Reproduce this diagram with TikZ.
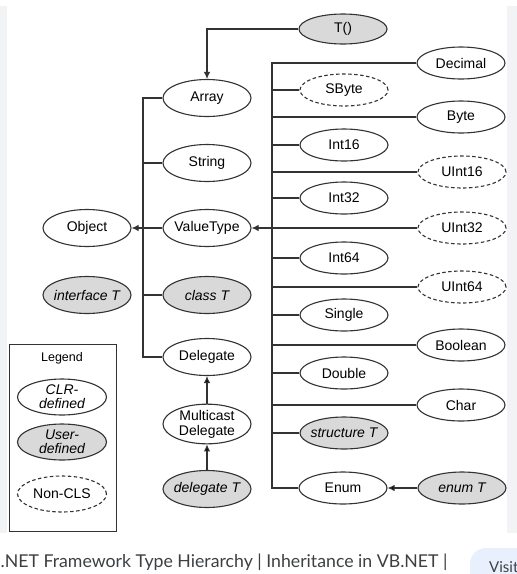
\documentclass[tikz,border=0pt]{standalone}
\usepackage{fontspec}
\setmainfont{Liberation Sans}
\newfontfamily\capfont{Lato}
\usetikzlibrary{arrows.meta,shapes}
\definecolor{usergray}{HTML}{D9D9D9}
\definecolor{linegray}{HTML}{333333}
\definecolor{pagegray}{HTML}{F2F3F5}
\definecolor{capgray}{HTML}{3C4043}
\definecolor{visitblue}{HTML}{E8F0FE}
\newcommand\typefont{\fontsize{14}{15}\selectfont}
\tikzstyle{clr}=[ellipse,draw=linegray,fill=white,line width=1.1pt,
               minimum width=88pt,minimum height=37pt,
               inner xsep=-10pt,inner ysep=0pt,align=center,font=\typefont]
\tikzstyle{prim}=[clr,minimum height=32pt]
\tikzstyle{user}=[fill=usergray,font=\typefont\itshape]
\tikzstyle{noncls}=[dash pattern=on 3.5pt off 2.5pt]
\tikzstyle{line}=[draw=linegray,line width=1.1pt]

\begin{document}
\begin{tikzpicture}[x=1pt,y=-1pt,>={Latex[length=7pt,width=6.5pt]}]
	\useasboundingbox (0,0) rectangle (517,574);
	\clip (0,0) rectangle (517,574);
	\fill[pagegray] (0,6) rectangle (517,533);
	\fill[white] (7,6) rectangle (507,533);

	% reference types
	\node[prim,user,font=\typefont,minimum height=30pt] (T) at (343,29) {T()};
	\node[clr] (Array) at (207,98) {Array};
	\node[clr] (String) at (207,163) {String};
	\node[clr] (ValueType) at (207,228) {ValueType};
	\node[clr,user] (classT) at (207,295) {class T};
	\node[clr] (Delegate) at (207,357) {Delegate};
	\node[clr] (Multicast) at (207,424) {Multicast\\Delegate};
	\node[clr,user] (delegateT) at (207,489) {delegate T};
	\node[clr] (Object) at (87,228) {Object};
	\node[clr,user] (interfaceT) at (87,295) {interface T};

	% value types
	\node[prim,noncls] (SByte) at (344,90) {SByte};
	\node[prim] (Int16) at (344,145) {Int16};
	\node[prim] (Int32) at (344,198) {Int32};
	\node[prim] (Int64) at (344,258) {Int64};
	\node[prim] (Single) at (344,315) {Single};
	\node[prim] (Double) at (344,373) {Double};
	\node[prim,user] (structureT) at (344,433) {structure T};
	\node[prim] (Enum) at (343,488) {Enum};
	\node[prim] (Decimal) at (461,63) {Decimal};
	\node[prim] (Byte) at (461,117) {Byte};
	\node[prim,noncls] (UInt16) at (462,172) {UInt16};
	\node[prim,noncls] (UInt32) at (462,228) {UInt32};
	\node[prim,noncls] (UInt64) at (462,287) {UInt64};
	\node[prim] (Boolean) at (461,345) {Boolean};
	\node[prim] (Char) at (461,405) {Char};
	\node[prim,user] (enumT) at (462,488) {enum T};

	\coordinate (lbus) at (143,228);
	\coordinate (rbus) at (272,228);

	\draw[line,->] (T) -| (Array);
	\draw[line] (Array) -| (lbus) |- (Delegate);
	\draw[line] (String) -- (String -| lbus);
	\draw[line] (ValueType) -- (lbus);
	\draw[line] (classT) -- (classT -| lbus);
	\draw[line,->] (lbus) -- (Object);

	\draw[line] (Decimal) -| (rbus) |- (Enum);
	\draw[line] (SByte) -- (SByte -| rbus);
	\draw[line] (Byte) -- (Byte -| rbus);
	\draw[line] (Int16) -- (Int16 -| rbus);
	\draw[line] (UInt16) -- (UInt16 -| rbus);
	\draw[line] (Int32) -- (Int32 -| rbus);
	\draw[line] (UInt32) -- (rbus);
	\draw[line] (Int64) -- (Int64 -| rbus);
	\draw[line] (UInt64) -- (UInt64 -| rbus);
	\draw[line] (Single) -- (Single -| rbus);
	\draw[line] (Boolean) -- (Boolean -| rbus);
	\draw[line] (Double) -- (Double -| rbus);
	\draw[line] (Char) -- (Char -| rbus);
	\draw[line] (structureT) -- (structureT -| rbus);
	\draw[line,->] (rbus) -- (ValueType);

	\path[line,->]
		(Multicast) edge (Delegate)
		(delegateT) edge (Multicast)
		(enumT) edge (Enum);

	% legend
	\node[draw=linegray,line width=1pt,minimum width=107pt,minimum height=187pt,
	      inner sep=0pt] (legend) at (62.5,437.5) {};
	\node[font=\fontsize{12.5}{14}\selectfont,inner sep=0pt] (legtitle) at (62,358) {Legend};
	\node[clr,user,minimum width=89pt,minimum height=36pt,
	      font=\fontsize{14}{14}\selectfont\itshape] (legclr) at (62,397) [fill=white] {CLR-\\defined};
	\node[clr,user,minimum width=89pt,minimum height=36pt,
	      font=\fontsize{14}{14}\selectfont\itshape] (leguser) at (62,442) {User-\\defined};
	\node[clr,noncls,minimum width=89pt,minimum height=36pt] (legnon) at (62,494) {Non-CLS};

	% caption strip
	\node[anchor=base west,inner sep=0pt,text=capgray,
	      font=\capfont\fontsize{17.7}{20}\selectfont] (caption) at (0.5,567)
		{.NET Framework Type Hierarchy | Inheritance in VB.NET |};
	\fill[visitblue,rounded corners=16pt] (470,548) rectangle (570,600);
	\node[anchor=base west,inner sep=0pt,text=capgray,
	      font=\capfont\fontsize{15}{17}\selectfont] (visit) at (489,572) {Visit};
\end{tikzpicture}
\end{document}
